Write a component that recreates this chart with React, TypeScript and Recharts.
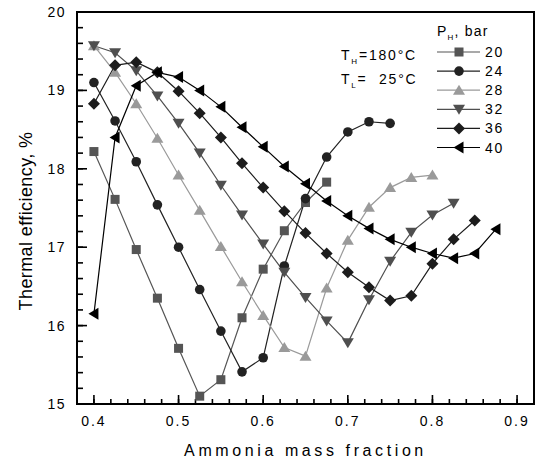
import { LineChart, Line, XAxis, YAxis, ReferenceArea, Legend } from 'recharts';

// ammonia mass fraction steps (shared by all series)
const fractions = [0.4, 0.425, 0.45, 0.475, 0.5, 0.525, 0.55, 0.575, 0.6, 0.625, 0.65, 0.675, 0.7, 0.725, 0.75, 0.775, 0.8, 0.825, 0.85, 0.875];

// thermal efficiency, % for each high pressure P_H (bar)
const eff20 = [18.22, 17.61, 16.97, 16.35, 15.71, 15.1, 15.31, 16.1, 16.72, 17.21, 17.57, 17.83];
const eff24 = [19.1, 18.61, 18.09, 17.54, 17.0, 16.46, 15.93, 15.41, 15.59, 16.76, 17.62, 18.15, 18.47, 18.6, 18.58];
const eff28 = [19.57, 19.23, 18.83, 18.39, 17.92, 17.47, 17.01, 16.56, 16.13, 15.72, 15.61, 16.48, 17.09, 17.51, 17.76, 17.89, 17.92];
const eff32 = [19.57, 19.48, 19.25, 18.93, 18.58, 18.2, 17.79, 17.41, 17.04, 16.68, 16.36, 16.06, 15.78, 16.33, 16.82, 17.19, 17.41, 17.56];
const eff36 = [18.83, 19.32, 19.36, 19.23, 18.99, 18.71, 18.4, 18.07, 17.76, 17.46, 17.18, 16.92, 16.68, 16.49, 16.32, 16.38, 16.79, 17.1, 17.34];
const eff40 = [16.15, 18.4, 19.06, 19.23, 19.17, 19.0, 18.79, 18.53, 18.28, 18.03, 17.81, 17.59, 17.4, 17.24, 17.1, 17.0, 16.92, 16.86, 16.92, 17.23];

const pressures = ['20', '24', '28', '32', '36', '40'];

const xTicks = [0.38, 0.4, 0.42, 0.44, 0.46, 0.48, 0.5, 0.52, 0.54, 0.56, 0.58, 0.6, 0.62, 0.64, 0.66, 0.68, 0.7, 0.72, 0.74, 0.76, 0.78, 0.8, 0.82, 0.84, 0.86, 0.88, 0.9, 0.92];
const yTicks = [15, 15.2, 15.4, 15.6, 15.8, 16, 16.2, 16.4, 16.6, 16.8, 17, 17.2, 17.4, 17.6, 17.8, 18, 18.2, 18.4, 18.6, 18.8, 19, 19.2, 19.4, 19.6, 19.8, 20];

const FONT = '"Liberation Sans", Arial, sans-serif';

type Shape = 'square' | 'circle' | 'up' | 'down' | 'diamond' | 'left';

const series: { name: string; values: number[]; color: string; shape: Shape }[] = [
  { name: pressures[0], values: eff20, color: '#555555', shape: 'square' },
  { name: pressures[1], values: eff24, color: '#222222', shape: 'circle' },
  { name: pressures[2], values: eff28, color: '#9a9a9a', shape: 'up' },
  { name: pressures[3], values: eff32, color: '#4f4f4f', shape: 'down' },
  { name: pressures[4], values: eff36, color: '#1c1c1c', shape: 'diamond' },
  { name: pressures[5], values: eff40, color: '#000000', shape: 'left' },
];

function Marker({ shape, cx, cy, color }: { shape: Shape; cx: number; cy: number; color: string }) {
  if (shape === 'square') return <rect x={cx - 4.5} y={cy - 4.5} width={9} height={9} fill={color} />;
  if (shape === 'circle') return <circle cx={cx} cy={cy} r={4.8} fill={color} />;
  if (shape === 'up') return <polygon points={`${cx - 6},${cy + 4.5} ${cx + 6},${cy + 4.5} ${cx},${cy - 5.5}`} fill={color} />;
  if (shape === 'down') return <polygon points={`${cx - 6},${cy - 4.5} ${cx + 6},${cy - 4.5} ${cx},${cy + 5.5}`} fill={color} />;
  if (shape === 'diamond') return <polygon points={`${cx},${cy - 6} ${cx + 6},${cy} ${cx},${cy + 6} ${cx - 6},${cy}`} fill={color} />;
  return <polygon points={`${cx + 4.5},${cy - 6} ${cx + 4.5},${cy + 6} ${cx - 5.5},${cy}`} fill={color} />;
}

const near = (v: number, step: number) => Math.abs(v / step - Math.round(v / step)) < 1e-6;

// native tick lines give the short (minor) marks; majors get a longer one here
function XTick(props: any) {
  const { x, y, payload } = props;
  const major = near(payload.value, 0.1);
  if (!major) return <g />;
  return (
    <g>
      <line x1={x} x2={x} y1={y} y2={y - 9} stroke="#000" strokeWidth={1.6} />
      <text x={x} y={y + 22} textAnchor="middle" fontSize={14} letterSpacing={2} fontFamily={FONT} fill="#000">
        {payload.value.toFixed(1)}
      </text>
    </g>
  );
}

function YTick(props: any) {
  const { x, y, payload } = props;
  const major = near(payload.value, 1);
  if (!major) return <g />;
  return (
    <g>
      <line x1={x} x2={x + 10} y1={y} y2={y} stroke="#000" strokeWidth={1.6} />
      <text x={x - 11} y={y + 5} textAnchor="end" fontSize={14} letterSpacing={1.5} fontFamily={FONT} fill="#000">
        {payload.value}
      </text>
    </g>
  );
}

function LegendBox() {
  return (
    <svg width={539} height={462} style={{ display: 'block' }}>
      <g fontFamily={FONT} fill="#000">
        <text x={437} y={36} fontSize={14} letterSpacing={1.2}>
          P<tspan fontSize={8} dy={4}>H</tspan><tspan dy={-4}>, bar</tspan>
        </text>
        {series.map((s, i) => {
          const cy = 52 + i * 19.1;
          return (
            <g key={s.name}>
              <line x1={437} x2={480} y1={cy} y2={cy} stroke={s.color} strokeWidth={1.2} />
              <Marker shape={s.shape} cx={459} cy={cy} color={s.color} />
              <text x={485} y={cy + 5} fontSize={14} letterSpacing={1.8}>{s.name}</text>
            </g>
          );
        })}
        <text x={341} y={60} fontSize={14} letterSpacing={1.8}>
          T<tspan fontSize={8} dy={4}>H</tspan><tspan dy={-4}>=180°C</tspan>
        </text>
        <text x={341} y={84} fontSize={14} letterSpacing={1.8}>
          T<tspan fontSize={8} dy={4}>L</tspan><tspan dy={-4}>{'=\u00a0\u00a025°C'}</tspan>
        </text>
      </g>
    </svg>
  );
}

export default function App() {
  return (
    <div style={{ position: 'absolute', left: 0, top: 0, background: '#fff' }}>
      <LineChart width={539} height={462} margin={{ top: 12, right: 5, bottom: 0, left: 0 }}>
        <ReferenceArea x1={0.38} x2={0.92} y1={15} y2={20} fill="none" stroke="#000" strokeWidth={2} ifOverflow="visible" />
        <XAxis
          dataKey="x"
          type="number"
          domain={[0.38, 0.92]}
          ticks={xTicks}
          interval={0}
          allowDataOverflow
          height={58}
          tickSize={-5}
          tickMargin={5}
          tickLine={{ stroke: '#000', strokeWidth: 1.6 }}
          axisLine={{ stroke: '#000', strokeWidth: 2 }}
          tick={<XTick />}
          label={{ value: 'Ammonia mass fraction', position: 'insideBottom', offset: 6, fontSize: 16, letterSpacing: 3.6, fontFamily: FONT, fill: '#000' }}
        />
        <YAxis
          type="number"
          domain={[15, 20]}
          ticks={yTicks}
          interval={0}
          allowDataOverflow
          width={77}
          tickSize={-6}
          tickMargin={6}
          tickLine={{ stroke: '#000', strokeWidth: 1.6 }}
          axisLine={{ stroke: '#000', strokeWidth: 2 }}
          tick={<YTick />}
          label={{ value: 'Thermal efficiency, %', angle: -90, position: 'center', dx: -13, dy: 13, fontSize: 18, letterSpacing: 0.4, fontFamily: FONT, fill: '#000' }}
        />
        {series.map((s) => (
          <Line
            key={s.name}
            name={s.name}
            data={s.values.map((v, i) => ({ x: fractions[i], y: v }))}
            dataKey="y"
            stroke={s.color}
            strokeWidth={1.2}
            isAnimationActive={false}
            dot={(p: any) => <Marker key={`${s.name}-${p.index}`} shape={s.shape} cx={p.cx} cy={p.cy} color={s.color} />}
            activeDot={false}
          />
        ))}
        <Legend
          layout="vertical"
          align="center"
          verticalAlign="middle"
          wrapperStyle={{ left: 0, top: 0, width: 539, height: 462, pointerEvents: 'none' }}
          content={() => <LegendBox />}
        />
      </LineChart>
    </div>
  );
}
